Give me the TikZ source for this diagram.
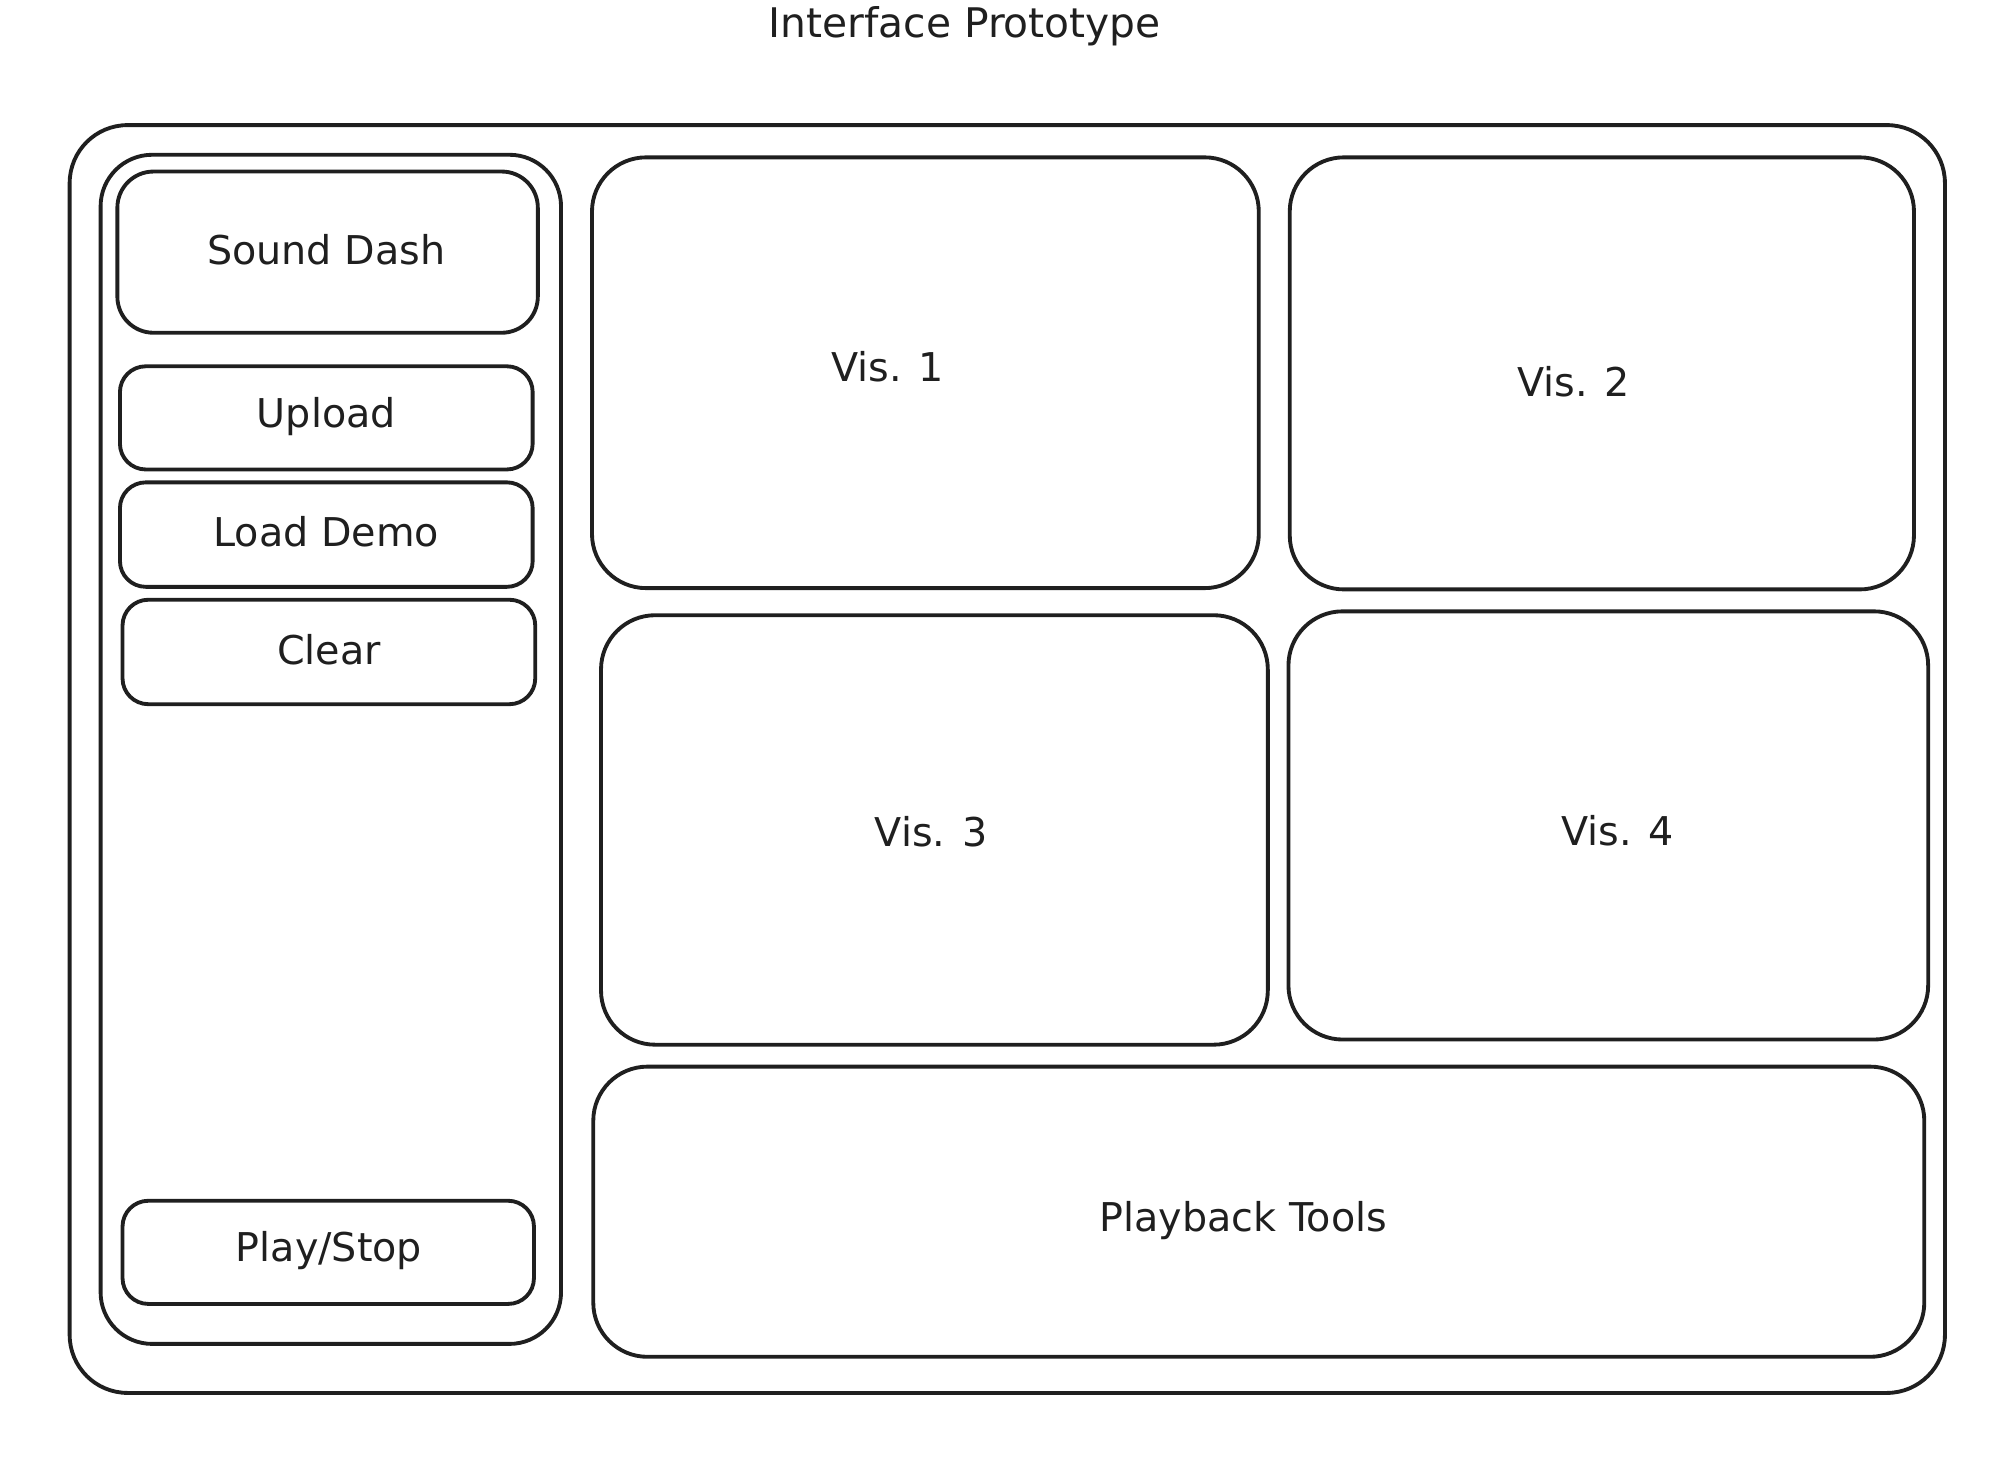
\documentclass[tikz,border=0pt]{standalone}
\usepackage{fontspec}
\setmainfont{DejaVu Sans}
\usetikzlibrary{fit}
\begin{document}
\begin{tikzpicture}[x=0.02cm,y=-0.02cm,
  panel/.style={draw=black!88, line width=1.7pt, inner sep=0pt, rectangle},
  bigpanel/.style={panel, rounded corners=0.9cm},
  vispanel/.style={panel, rounded corners=0.84cm},
  headpanel/.style={panel, rounded corners=0.56cm},
  btnpanel/.style={panel, rounded corners=0.4cm},
  lbl/.style={text=black!88, font=\fontsize{17.5}{21}\selectfont, inner sep=0pt},
  ttl/.style={text=black!88, font=\fontsize{18}{22}\selectfont, inner sep=0pt}]
\useasboundingbox (0,0) rectangle (1560,1129);
% title
\node[ttl] (title) at (748,20) {Interface Prototype};
% outer frame and sidebar
\node[bigpanel, fit={(54,97) (1508,1080)}] (outer) {};
\node[bigpanel, rounded corners=0.8cm, fit={(78,120) (435,1042)}] (sidebar) {};
% sidebar items
\node[headpanel, fit={(91,133) (417,258)}] (sound) {};
\node[lbl] (soundt) at (253,194) {Sound Dash};
\node[btnpanel, fit={(93,284) (413,364)}] (upload) {};
\node[lbl] (uploadt) at (253,323) {Upload};
\node[btnpanel, fit={(93,374) (413,455)}] (demo) {};
\node[lbl] (demot) at (253,412) {Load Demo};
\node[btnpanel, fit={(95,465) (415,546)}] (clear) {};
\node[lbl] (cleart) at (255,504) {Clear};
\node[btnpanel, fit={(95,931) (414,1011)}] (play) {};
\node[lbl] (playt) at (255,970) {Play/Stop};
% visualisations
\node[vispanel, fit={(459,122) (976,456)}] (vis1) {};
\node[lbl] (vis1t) at (688,284) {Vis. 1};
\node[vispanel, fit={(1000,122) (1484,457)}] (vis2) {};
\node[lbl] (vis2t) at (1220,296) {Vis. 2};
\node[vispanel, fit={(466,477) (983,810)}] (vis3) {};
\node[lbl] (vis3t) at (722,645) {Vis. 3};
\node[vispanel, fit={(999,474) (1495,806)}] (vis4) {};
\node[lbl] (vis4t) at (1254,644) {Vis. 4};
% playback
\node[vispanel, fit={(460,827) (1492,1052)}] (playback) {};
\node[lbl] (playbackt) at (964,946) {Playback Tools};
\end{tikzpicture}
\end{document}
